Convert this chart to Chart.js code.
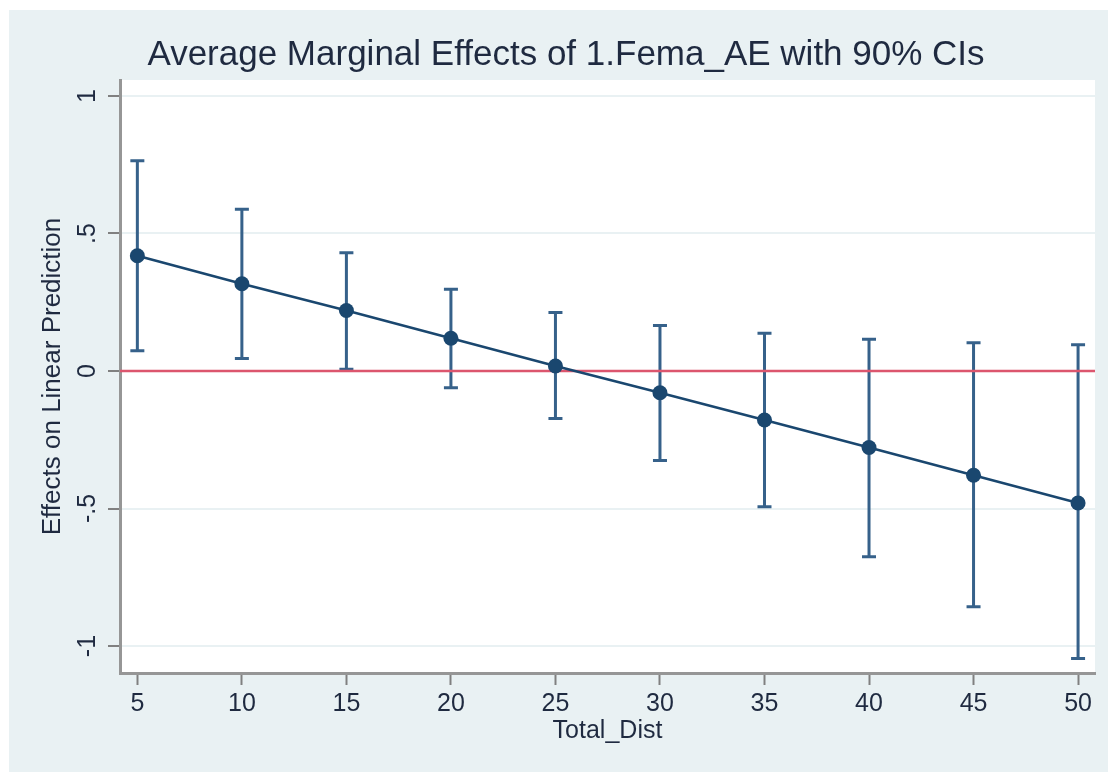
<!DOCTYPE html>
<html>
<head>
<meta charset="utf-8">
<title>Average Marginal Effects</title>
<script src="https://cdn.jsdelivr.net/npm/chart.js@4.4.1/dist/chart.umd.min.js"></script>
<style>
    body { margin: 0; background: #ffffff; }
    #wrap { position: absolute; left: 9px; top: 10px; width: 1099px; height: 762px; }
</style>
</head>
<body>
<div id="wrap"><canvas id="mfx" width="1099" height="762"></canvas></div>
<script>
const distances = [5, 10, 15, 20, 25, 30, 35, 40, 45, 50];
const effects = [0.419, 0.317, 0.22, 0.119, 0.018, -0.079, -0.178, -0.278, -0.379, -0.48];
const ciUpper = [0.764, 0.588, 0.43, 0.297, 0.213, 0.165, 0.137, 0.115, 0.103, 0.095];
const ciLower = [0.074, 0.045, 0.006, -0.061, -0.173, -0.325, -0.494, -0.675, -0.857, -1.045];
const xTicks = [5, 10, 15, 20, 25, 30, 35, 40, 45, 50];
const yTicks = [-1, -0.5, 0, 0.5, 1];
const refLine = 0;

const navy = '#1a476f';
const textColor = '#1f2a40';
const font = 'Liberation Sans, Arial, Helvetica, sans-serif';

// Stata style y labels: 1, .5, 0, -.5, -1
const stataNum = v => v === 0 ? '0' : (v < 0 ? '-' : '') + String(Math.abs(v)).replace(/^0\./, '.');

// background: bluish graph region, white plot region
const background = {
    id: 'background',
    beforeDraw(chart) {
        const { ctx, chartArea } = chart;
        ctx.save();
        ctx.fillStyle = '#e9f1f3';
        ctx.fillRect(0, 0, chart.width, chart.height);
        ctx.fillStyle = '#ffffff';
        ctx.fillRect(chartArea.left, chartArea.top, chartArea.right - chartArea.left, chartArea.bottom - chartArea.top);
        ctx.restore();
    }
};

// capped CI spikes and the zero line, under the estimate line
const errorBars = {
    id: 'errorBars',
    beforeDatasetsDraw(chart) {
        const { ctx, chartArea, scales: { x, y } } = chart;
        ctx.save();
        ctx.strokeStyle = '#36618a';
        ctx.lineWidth = 3;
        distances.forEach((d, i) => {
            const px = x.getPixelForValue(d);
            const top = y.getPixelForValue(ciUpper[i]);
            const bot = y.getPixelForValue(ciLower[i]);
            ctx.beginPath();
            ctx.moveTo(px, top);
            ctx.lineTo(px, bot);
            ctx.moveTo(px - 7, top);
            ctx.lineTo(px + 7, top);
            ctx.moveTo(px - 7, bot);
            ctx.lineTo(px + 7, bot);
            ctx.stroke();
        });
        const y0 = y.getPixelForValue(refLine);
        ctx.strokeStyle = '#dc566e';
        ctx.lineWidth = 2.5;
        ctx.beginPath();
        ctx.moveTo(chartArea.left, y0);
        ctx.lineTo(chartArea.right, y0);
        ctx.stroke();
        ctx.restore();
    }
};

new Chart(document.getElementById('mfx'), {
    type: 'line',
    data: {
        datasets: [{
            label: 'Effect',
            data: distances.map((d, i) => ({ x: d, y: effects[i] })),
            borderColor: navy,
            borderWidth: 2.5,
            backgroundColor: navy,
            pointBackgroundColor: navy,
            pointBorderColor: navy,
            pointRadius: 7.5,
            pointBorderWidth: 0,
            tension: 0,
            fill: false
        }]
    },
    options: {
        responsive: false,
        animation: false,
        devicePixelRatio: 1,
        layout: {
            padding: { left: 28, right: 13, top: 0, bottom: 0 }
        },
        scales: {
            x: {
                type: 'linear',
                min: 4.17,
                max: 50.81,
                afterBuildTicks: scale => { scale.ticks = xTicks.map(v => ({ value: v })); },
                afterFit: scale => { scale.height = 99; },
                grid: {
                    drawOnChartArea: false,
                    drawTicks: true,
                    tickLength: 12,
                    tickColor: '#808080',
                    tickWidth: 2
                },
                border: { display: true, color: '#969696', width: 3 },
                ticks: {
                    padding: 4,
                    color: textColor,
                    font: { family: font, size: 25 },
                    callback: v => String(v)
                },
                title: {
                    display: true,
                    text: 'Total_Dist',
                    color: textColor,
                    font: { family: font, size: 25 },
                    padding: { top: 0, bottom: 26 }
                }
            },
            y: {
                type: 'linear',
                min: -1.098,
                max: 1.058,
                afterBuildTicks: scale => { scale.ticks = yTicks.map(v => ({ value: v })); },
                afterFit: scale => { scale.width = 83; },
                grid: {
                    color: '#e9f1f3',
                    lineWidth: 2,
                    drawTicks: true,
                    tickLength: 12,
                    tickColor: '#808080',
                    tickWidth: 2
                },
                border: { display: true, color: '#969696', width: 3 },
                ticks: {
                    minRotation: 90,
                    maxRotation: 90,
                    crossAlign: 'center',
                    padding: 5,
                    color: textColor,
                    font: { family: font, size: 25 },
                    callback: v => stataNum(v)
                },
                title: {
                    display: true,
                    text: 'Effects on Linear Prediction',
                    color: textColor,
                    font: { family: font, size: 26 },
                    padding: { top: 0, bottom: 0 }
                }
            }
        },
        plugins: {
            legend: { display: false },
            tooltip: { enabled: false },
            title: {
                display: true,
                text: 'Average Marginal Effects of 1.Fema_AE with 90% CIs',
                color: textColor,
                font: { family: font, size: 35, weight: 'normal' },
                padding: { top: 24, bottom: 4 }
            }
        }
    },
    plugins: [background, errorBars]
});
</script>
</body>
</html>
